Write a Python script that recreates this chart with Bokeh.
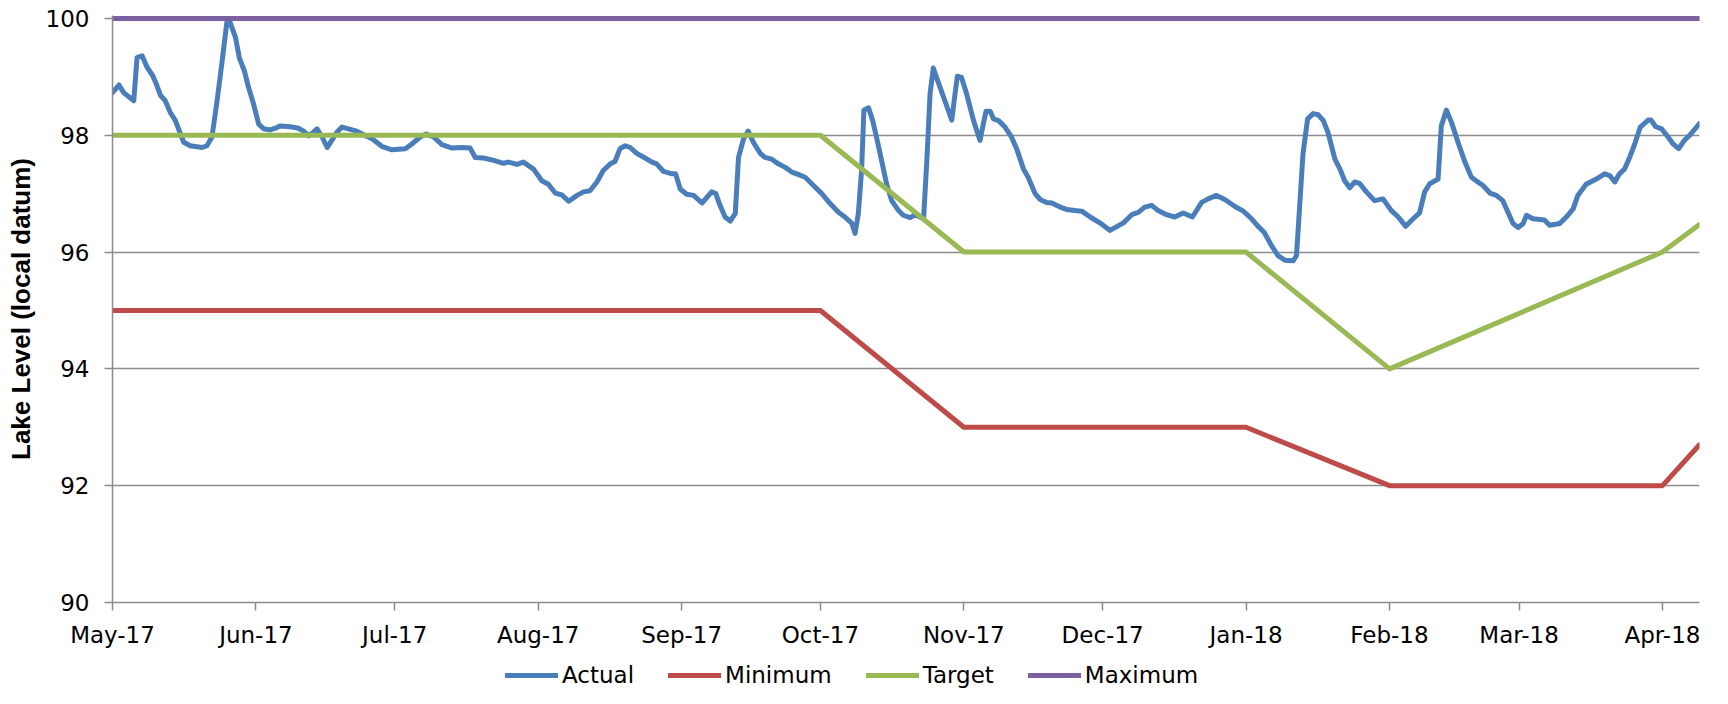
import pandas as pd
from bokeh.plotting import figure
from bokeh.layouts import column
from bokeh.models import Range1d, FixedTicker, Legend, LegendItem, ColumnDataSource
from bokeh.embed import file_html
from bokeh.resources import INLINE

# ---------------- data ----------------
start_date = "2017-05-01"
end_date = "2018-04-09"

# Actual lake level: days after 1 May 2017, level (local datum)
actual_day = [
    0, 1.4, 2.4, 4.6, 5.3, 6.4, 7.5, 8.7, 9.6, 10.4, 11.4, 12.5, 13.6, 14.7, 15.4, 16.8,
    19.4, 20.4, 21.5, 22.6, 23.7, 24.8, 25.1, 26.6, 27.4, 28.5, 29.4, 30.5, 31.6, 32.7,
    34.1, 35.2, 36.3, 37.7, 38.8, 40.2, 41.3, 42.4, 43.1, 44.2, 45.3, 46.4, 47.4, 48.5,
    49.6, 51.0, 52.8, 54.3, 56.1, 58.2, 60.4, 63.3, 64.7, 66.5, 67.8, 69.4, 71.2, 73.4,
    75.5, 77.3, 78.4, 80.2, 82.4, 84.5, 85.6, 87.4, 88.8, 91.0, 92.8, 94.2, 95.7, 97.1,
    98.6, 100.4, 101.8, 103.2, 104.7, 106.1, 107.6, 108.6, 109.7, 110.8, 111.9, 113.3,
    115.1, 116.6, 117.6, 119.1, 120.9, 121.7, 122.7, 124.1, 125.6, 127.4, 129.5, 130.4,
    131.3, 132.4, 133.5, 134.6, 135.3, 136.4, 137.4, 138.5, 140.0, 141.0, 142.5, 143.9,
    145.4, 146.8, 148.2, 149.7, 151.5, 153.3, 155.1, 156.9, 158.3, 159.8, 160.5, 161.2,
    161.9, 162.4, 163.4, 164.3, 165.2, 166.3, 167.3, 168.4, 169.9, 170.9, 172.4, 173.5,
    175.3, 176.0, 176.7, 177.4, 178.5, 179.9, 181.4, 182.1, 182.6, 183.5, 184.6, 186.1,
    187.5, 188.2, 188.8, 189.7, 190.4, 191.5, 192.9, 194.3, 195.4, 196.9, 197.9, 199.4,
    200.5, 201.9, 203.0, 204.8, 206.2, 208.0, 209.5, 211.3, 213.4, 215.6, 218.5, 220.3,
    221.7, 223.1, 224.6, 226.0, 227.8, 229.6, 231.4, 233.4, 235.4, 236.8, 238.6, 240.4,
    242.6, 244.4, 246.2, 247.6, 248.9, 250.5, 251.9, 253.4, 255.2, 255.9, 257.3, 258.3,
    259.5, 260.6, 261.7, 262.7, 264.2, 265.3, 266.3, 267.4, 268.5, 269.6, 271.0, 272.8,
    274.6, 276.4, 277.9, 279.5, 281.1, 282.5, 283.6, 284.7, 286.5, 287.2, 288.3, 289.4,
    290.8, 292.3, 293.7, 295.1, 296.2, 297.7, 299.1, 300.5, 301.6, 302.7, 303.8, 304.9,
    305.6, 307.0, 309.5, 310.6, 312.8, 314.2, 315.7, 316.7, 318.5, 320.7, 322.5, 323.6,
    324.7, 325.7, 326.8, 327.9, 329.0, 330.2, 331.9, 332.5, 333.5, 334.8, 336.0, 337.3,
    338.5, 339.7, 341.0, 343.0,
]
actual_level = [
    98.73, 98.86, 98.73, 98.59, 99.33, 99.36, 99.16, 99.02, 98.85, 98.68, 98.59, 98.39,
    98.25, 98.02, 97.88, 97.82, 97.79, 97.82, 97.97, 98.59, 99.27, 99.99, 100.0, 99.67,
    99.33, 99.10, 98.82, 98.53, 98.19, 98.11, 98.09, 98.12, 98.16, 98.15, 98.14, 98.12,
    98.07, 97.99, 98.03, 98.11, 97.97, 97.79, 97.91, 98.05, 98.14, 98.11, 98.07, 98.01,
    97.94, 97.81, 97.75, 97.77, 97.85, 97.97, 98.02, 97.97, 97.84, 97.78, 97.79, 97.78,
    97.62, 97.61, 97.57, 97.52, 97.54, 97.50, 97.54, 97.42, 97.22, 97.16, 97.01, 96.98,
    96.87, 96.97, 97.03, 97.05, 97.20, 97.40, 97.51, 97.55, 97.77, 97.82, 97.79, 97.69,
    97.61, 97.54, 97.51, 97.38, 97.34, 97.34, 97.08, 96.99, 96.97, 96.84, 97.03, 97.00,
    96.80, 96.60, 96.53, 96.66, 97.62, 97.94, 98.07, 97.88, 97.69, 97.62, 97.59, 97.51,
    97.45, 97.37, 97.33, 97.28, 97.14, 97.00, 96.83, 96.68, 96.60, 96.49, 96.32, 96.66,
    97.40, 98.43, 98.47, 98.25, 97.94, 97.54, 97.17, 96.88, 96.71, 96.63, 96.59, 96.64,
    96.57, 97.56, 98.71, 99.15, 98.90, 98.59, 98.26, 98.71, 99.01, 98.99, 98.71, 98.25,
    97.91, 98.19, 98.41, 98.41, 98.28, 98.25, 98.14, 97.97, 97.77, 97.42, 97.28, 97.00,
    96.90, 96.85, 96.84, 96.77, 96.73, 96.71, 96.70, 96.60, 96.50, 96.37, 96.50, 96.64,
    96.68, 96.77, 96.80, 96.71, 96.64, 96.60, 96.67, 96.60, 96.85, 96.91, 96.97, 96.90,
    96.78, 96.70, 96.57, 96.44, 96.34, 96.11, 95.94, 95.86, 95.85, 95.94, 97.68, 98.28,
    98.37, 98.35, 98.25, 98.05, 97.59, 97.42, 97.22, 97.10, 97.20, 97.17, 97.03, 96.88,
    96.91, 96.71, 96.60, 96.44, 96.57, 96.67, 97.03, 97.17, 97.25, 98.16, 98.43, 98.22,
    97.88, 97.54, 97.28, 97.20, 97.14, 97.01, 96.97, 96.88, 96.68, 96.49, 96.42, 96.49,
    96.63, 96.57, 96.55, 96.46, 96.49, 96.60, 96.74, 96.97, 97.16, 97.25, 97.34, 97.31,
    97.20, 97.34, 97.42, 97.62, 97.85, 98.14, 98.26, 98.26, 98.15, 98.11, 97.99, 97.85,
    97.77, 97.91, 98.01, 98.20,
]

rule_date = ["2017-05-01", "2017-10-01", "2017-11-01", "2018-01-01",
             "2018-02-01", "2018-04-01", "2018-04-09"]
minimum_level = [95, 95, 93, 93, 92, 92, 92.7]
target_level = [98, 98, 96, 96, 94, 96, 96.47]
maximum_date = ["2017-05-01", "2018-04-09"]
maximum_level = [100, 100]

series_names = ["Actual", "Minimum", "Target", "Maximum"]
series_colors = ["#4a7ebb", "#be4b48", "#98b954", "#7d60a0"]

month_ticks = ["2017-05-01", "2017-06-01", "2017-07-01", "2017-08-01", "2017-09-01",
               "2017-10-01", "2017-11-01", "2017-12-01", "2018-01-01", "2018-02-01",
               "2018-03-01", "2018-04-01"]
month_labels = ["May-17", "Jun-17", "Jul-17", "Aug-17", "Sep-17", "Oct-17",
                "Nov-17", "Dec-17", "Jan-18", "Feb-18", "Mar-18", "Apr-18"]
level_ticks = [90, 92, 94, 96, 98, 100]

# ---------------- helpers ----------------
def to_ms(d):
    return pd.Timestamp(d).value / 1e6

actual_dates = pd.Timestamp(start_date) + pd.to_timedelta(actual_day, unit="D")
sources = [
    ColumnDataSource(dict(x=list(actual_dates), y=actual_level)),
    ColumnDataSource(dict(x=list(pd.to_datetime(rule_date)), y=minimum_level)),
    ColumnDataSource(dict(x=list(pd.to_datetime(rule_date)), y=target_level)),
    ColumnDataSource(dict(x=list(pd.to_datetime(maximum_date)), y=maximum_level)),
]

GRID = "#8c8c8c"
LW = 5
W = 1712
FRAME_LEFT = 112

p = figure(width=W, height=650, x_axis_type="datetime",
           output_backend="svg", toolbar_location=None,
           x_range=Range1d(to_ms(start_date), to_ms(end_date)),
           y_range=Range1d(90, 100.05),
           min_border_left=FRAME_LEFT, min_border_right=13,
           min_border_top=15, min_border_bottom=47)
p.outline_line_color = None
p.background_fill_color = "white"
p.border_fill_color = "white"

p.xgrid.grid_line_color = None
p.ygrid.grid_line_color = GRID
p.ygrid.grid_line_width = 1.5

tick_ms = [to_ms(d) for d in month_ticks]
p.xaxis.ticker = FixedTicker(ticks=tick_ms)
p.xaxis.major_label_overrides = {t: lab for t, lab in zip(tick_ms, month_labels)}
p.yaxis.ticker = FixedTicker(ticks=level_ticks)

for ax in (p.xaxis, p.yaxis):
    ax.axis_line_color = GRID
    ax.axis_line_width = 1.5
    ax.major_tick_line_color = GRID
    ax.major_tick_line_width = 1.5
    ax.major_tick_out = 8
    ax.major_tick_in = 0
    ax.minor_tick_line_color = None
    ax.major_label_text_font = "DejaVu Sans"
    ax.major_label_text_font_size = "23px"
    ax.major_label_text_color = "black"

p.xaxis.major_label_standoff = 11
p.yaxis.major_label_standoff = 15
p.yaxis.axis_label = "Lake Level (local datum)"
p.yaxis.axis_label_text_font = "Liberation Sans"
p.yaxis.axis_label_text_font_style = "bold"
p.yaxis.axis_label_text_font_size = "26px"
p.yaxis.axis_label_text_color = "black"
p.yaxis.axis_label_standoff = 7

kw = dict(line_width=LW, line_join="round", line_cap="round")
for src, col in zip(sources, series_colors):
    p.line("x", "y", source=src, line_color=col, **kw)

# legend strip below the chart (same series, ranges chosen so no data shows)
pl = figure(width=W, height=38, output_backend="svg", toolbar_location=None,
            x_range=Range1d(0, 1), y_range=Range1d(0, 1),
            x_axis_location=None, y_axis_location=None,
            min_border_left=FRAME_LEFT, min_border_right=13,
            min_border_top=0, min_border_bottom=0)
pl.outline_line_color = None
pl.grid.visible = False
items = []
for name, src, col in zip(series_names, sources, series_colors):
    r = pl.line("x", "y", source=src, line_color=col, **kw)
    items.append(LegendItem(label=name, renderers=[r]))

legend = Legend(items=items, orientation="horizontal", location=(505 - FRAME_LEFT, 0),
                glyph_width=53, glyph_height=24, label_height=24,
                label_standoff=4, spacing=34, padding=0, margin=0,
                border_line_color=None, background_fill_alpha=0,
                label_text_font="DejaVu Sans", label_text_font_size="23px",
                label_text_color="black")
pl.add_layout(legend)

layout = column(p, pl, spacing=0)
open("out.html", "w").write(file_html(layout, INLINE))
